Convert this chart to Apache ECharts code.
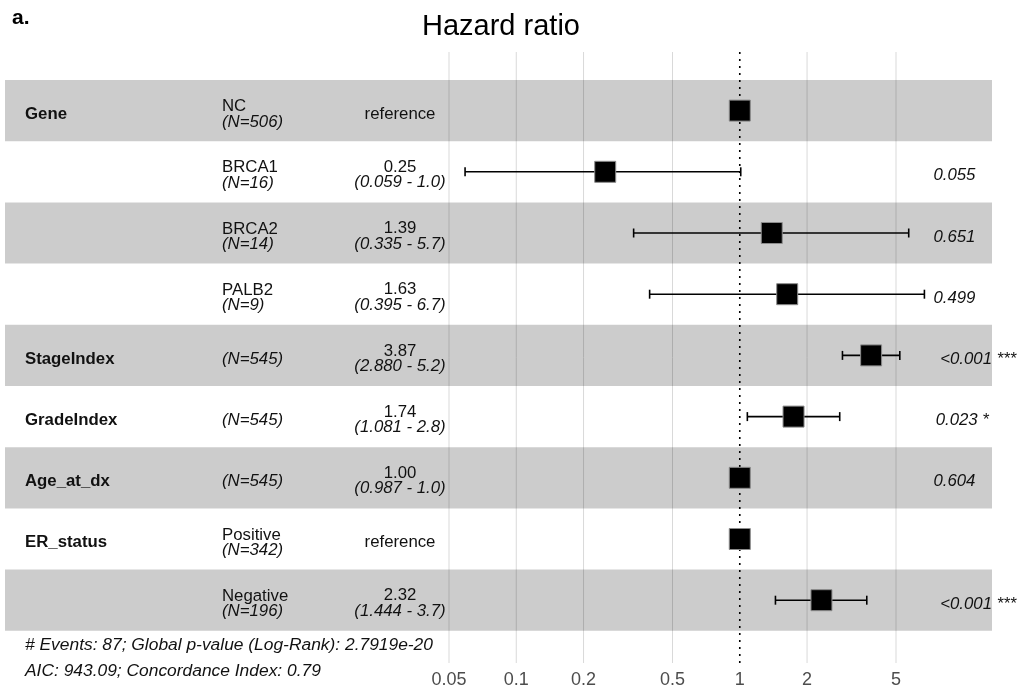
<!DOCTYPE html>
<html>
<head>
<meta charset="utf-8">
<title>Hazard ratio</title>
<script src="https://cdn.jsdelivr.net/npm/echarts@6/dist/echarts.min.js"></script>
<style>
  html, body { margin: 0; padding: 0; background: #fff; }
  #forest { width: 1021px; height: 691px; }
</style>
</head>
<body>
<div id="forest"></div>
<script>
  // rows, top to bottom
  var varNames = ['Gene', '', '', '', 'StageIndex', 'GradeIndex', 'Age_at_dx', 'ER_status', '']
  var levelNames = ['NC', 'BRCA1', 'BRCA2', 'PALB2', '', '', '', 'Positive', 'Negative']
  var nLabels = ['(N=506)', '(N=16)', '(N=14)', '(N=9)', '(N=545)', '(N=545)', '(N=545)', '(N=342)', '(N=196)']
  var hrLabels = ['reference', '0.25', '1.39', '1.63', '3.87', '1.74', '1.00', 'reference', '2.32']
  var ciLabels = ['', '(0.059 - 1.0)', '(0.335 - 5.7)', '(0.395 - 6.7)', '(2.880 - 5.2)', '(1.081 - 2.8)', '(0.987 - 1.0)', '', '(1.444 - 3.7)']
  var pLabels = ['', '0.055', '0.651', '0.499', '<0.001 ***', '0.023 *', '0.604', '', '<0.001 ***']
  var hr = [1, 0.25, 1.39, 1.63, 3.87, 1.74, 1.00, 1, 2.32]
  var ciLow = [null, 0.059, 0.335, 0.395, 2.880, 1.081, 0.987, null, 1.444]
  var ciHigh = [null, 1.01, 5.7, 6.7, 5.2, 2.8, 1.0, null, 3.7]
  var tickValues = [0.05, 0.1, 0.2, 0.5, 1, 2, 5]
  var footLines = ['# Events: 87; Global p-value (Log-Rank): 2.7919e-20', 'AIC: 943.09; Concordance Index: 0.79']

  var FONT = '"Liberation Sans", Arial, sans-serif'
  var TXT = 16.8

  // panel layout (px) -> log axis limits
  var gridLeft = 5, gridRight = 992, gridTop = 52, gridBottom = 663
  var x005 = 449, pxPerDecade = 223.5
  var xMin = 0.05 * Math.pow(10, (gridLeft - x005) / pxPerDecade)
  var xMax = 0.05 * Math.pow(10, (gridRight - x005) / pxPerDecade)
  var rowPx = 61.2, firstRowTop = 80
  var yMin = 0.5 - (firstRowTop - gridTop) / rowPx
  var yMax = yMin + (gridBottom - gridTop) / rowPx

  var measure = document.createElement('canvas').getContext('2d')
  function textWidth(s, font) {
    measure.font = font
    return measure.measureText(s).width
  }

  var rows = hr.map(function(v, i) { return [v, i + 1] })
  var bandRows = rows.filter(function(r) { return r[1] % 2 === 1 })
  var errRows = []
  hr.forEach(function(v, i) {
    if (ciLow[i] !== null) errRows.push([ciLow[i], ciHigh[i], i + 1])
  })

  function txt(x, y, s, opt) {
    opt = opt || {}
    return {
      type: 'text',
      x: x,
      y: y,
      style: {
        text: s,
        fill: opt.fill || '#111',
        font: (opt.italic ? 'italic ' : '') + (opt.bold ? 'bold ' : '') + (opt.size || TXT) + 'px ' + FONT,
        align: opt.align || 'left',
        verticalAlign: 'middle'
      }
    }
  }

  var chart = echarts.init(document.getElementById('forest'))
  var options = {
    animation: false,
    title: [
      { text: 'a.', left: 7, top: 3, textStyle: { fontFamily: FONT, fontWeight: 'bold', fontSize: 21, color: '#000' } },
      { text: 'Hazard ratio', left: 417, top: 7, textStyle: { fontFamily: FONT, fontWeight: 'normal', fontSize: 29, color: '#000' } }
    ],
    grid: {
      left: gridLeft,
      right: 1021 - gridRight,
      top: gridTop,
      bottom: 691 - gridBottom,
      containLabel: false
    },
    xAxis: {
      type: 'log',
      logBase: 10,
      min: xMin,
      max: xMax,
      axisLine: { show: false },
      axisTick: { show: false },
      axisLabel: { show: false },
      splitLine: { show: false }
    },
    yAxis: {
      type: 'value',
      inverse: true,
      min: yMin,
      max: yMax,
      show: false
    },
    graphic: footLines.map(function(s, i) {
      return {
        type: 'text',
        left: 25,
        top: 637 + i * 26,
        style: { text: s, fill: '#111', font: 'italic 17.4px ' + FONT }
      }
    }),
    series: [
      {
        // vertical grid lines at the breaks
        type: 'custom',
        z: 1,
        clip: false,
        data: tickValues.filter(function(v) { return v !== 1 }).map(function(v) { return [v, 1] }),
        renderItem: function(params, api) {
          var a = api.coord([api.value(0), yMin])
          var b = api.coord([api.value(0), yMax])
          return { type: 'line', shape: { x1: a[0], y1: a[1], x2: b[0], y2: b[1] }, style: { stroke: '#d9d9d9', lineWidth: 1 } }
        }
      },
      {
        // shaded rows
        type: 'custom',
        z: 2,
        clip: false,
        data: bandRows,
        renderItem: function(params, api) {
          var r = api.value(1)
          var a = api.coord([xMin, r - 0.5])
          var b = api.coord([xMax, r + 0.5])
          return {
            type: 'rect',
            shape: { x: Math.min(a[0], b[0]), y: Math.min(a[1], b[1]), width: Math.abs(b[0] - a[0]), height: Math.abs(b[1] - a[1]) },
            style: { fill: 'rgba(0,0,0,0.2)' }
          }
        }
      },
      {
        // reference line at HR = 1
        type: 'custom',
        z: 3,
        clip: false,
        data: [[1, 1]],
        renderItem: function(params, api) {
          var a = api.coord([api.value(0), yMin])
          var b = api.coord([api.value(0), yMax])
          return { type: 'line', shape: { x1: a[0], y1: a[1], x2: b[0], y2: b[1] }, style: { stroke: '#000', lineWidth: 1.6, lineDash: [2, 5] } }
        }
      },
      {
        // confidence intervals
        type: 'custom',
        z: 4,
        clip: false,
        encode: { x: [0, 1], y: 2 },
        data: errRows,
        renderItem: function(params, api) {
          var a = api.coord([api.value(0), api.value(2)])
          var b = api.coord([api.value(1), api.value(2)])
          var st = { stroke: '#000', lineWidth: 1.6 }
          return {
            type: 'group',
            children: [
              { type: 'line', shape: { x1: a[0], y1: a[1], x2: b[0], y2: b[1] }, style: st },
              { type: 'line', shape: { x1: a[0], y1: a[1] - 4.5, x2: a[0], y2: a[1] + 4.5 }, style: st },
              { type: 'line', shape: { x1: b[0], y1: b[1] - 4.5, x2: b[0], y2: b[1] + 4.5 }, style: st }
            ]
          }
        }
      },
      {
        // point estimates
        type: 'scatter',
        z: 5,
        symbol: 'rect',
        symbolSize: 21,
        itemStyle: { color: '#000', borderColor: '#8c8c8c', borderWidth: 1, opacity: 1 },
        data: rows
      },
      {
        // table columns
        type: 'custom',
        z: 6,
        clip: false,
        data: rows,
        renderItem: function(params, api) {
          var i = params.dataIndex
          var yc = api.coord([1, api.value(1)])[1]
          var kids = []
          if (varNames[i]) kids.push(txt(25, yc + 3.5, varNames[i], { bold: true }))
          if (levelNames[i]) {
            kids.push(txt(222, yc - 4, levelNames[i]))
            kids.push(txt(222, yc + 11.5, nLabels[i], { italic: true }))
          } else {
            kids.push(txt(222, yc + 3.5, nLabels[i], { italic: true }))
          }
          if (ciLabels[i]) {
            kids.push(txt(400, yc - 4.5, hrLabels[i], { align: 'center' }))
            kids.push(txt(400, yc + 11, ciLabels[i], { align: 'center', italic: true }))
          } else {
            kids.push(txt(400, yc + 3.5, hrLabels[i], { align: 'center' }))
          }
          if (pLabels[i]) {
            var w = textWidth(pLabels[i], 'italic ' + TXT + 'px ' + FONT)
            kids.push(txt(925 + 0.2 * w, yc + 4, pLabels[i], { italic: true }))
          }
          return { type: 'group', children: kids }
        }
      },
      {
        // axis tick labels
        type: 'custom',
        z: 6,
        clip: false,
        data: tickValues.map(function(v) { return [v, 1] }),
        renderItem: function(params, api) {
          var p = api.coord([api.value(0), yMax])
          return txt(p[0], p[1] + 17, String(tickValues[params.dataIndex]), { align: 'center', size: 18, fill: '#4d4d4d' })
        }
      }
    ]
  }
  chart.setOption(options)
</script>
</body>
</html>
